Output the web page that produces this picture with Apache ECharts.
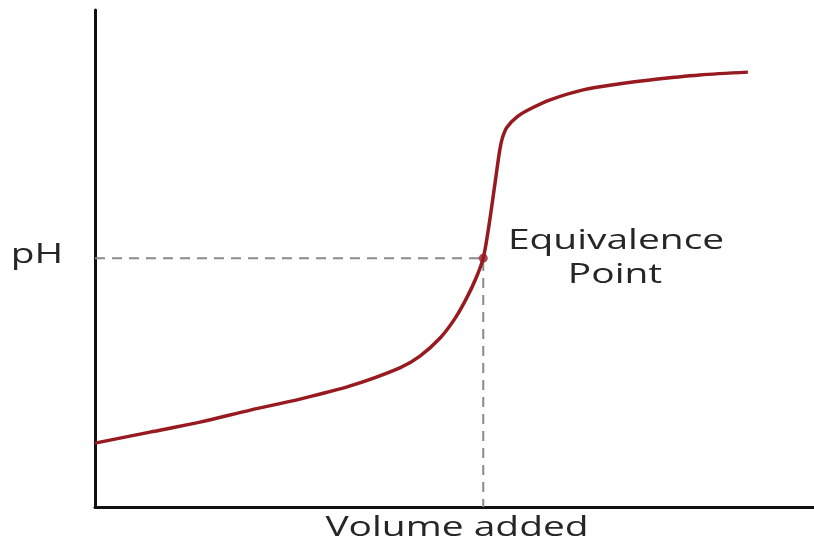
<!DOCTYPE html>
<html><head><meta charset="utf-8">
<script src="https://cdn.jsdelivr.net/npm/echarts@6/dist/echarts.min.js"></script>
<style>html,body{margin:0;padding:0;background:#fff}#c{width:814px;height:544px}</style>
</head><body><div id="c"></div>
<script>
const volume = [0, 7.65, 14.6, 21.6, 28.5, 35.5, 42.4, 45.2, 48.0, 50.1, 51.7, 53.0, 54.0, 54.8, 55.6, 56.3, 56.7, 57.3, 58.7, 60.5, 63.3, 67.9, 73.0, 77.2, 84.1, 90.8];
const pH =     [1.80, 2.11, 2.39, 2.73, 3.04, 3.41, 3.92, 4.25, 4.76, 5.32, 5.89, 6.45, 7.01, 7.94, 9.07, 10.06, 10.42, 10.70, 10.99, 11.21, 11.47, 11.75, 11.92, 12.03, 12.17, 12.25];
const equivVolume = 54.0;
const equivPH = 7.01;
const guideX = [0, equivVolume, equivVolume];
const guideY = [equivPH, equivPH, 0];
const xTitle = 'Volume added';
const yTitle = 'pH';
const equivLabel = ['Equivalence', 'Point'];

const chart = echarts.init(document.getElementById('c'));
const font = '28px "Open Sans", "Noto Sans", sans-serif';
function txt(text, x, y) {
  return {
    type: 'text', x: x, y: y, scaleX: 1.39, scaleY: 1, z: 10,
    style: {text: text, x: 0, y: 0, font: font, fill: '#262626', align: 'center', verticalAlign: 'middle'}
  };
}
chart.setOption({
  animation: false,
  grid: {left: 95, right: 0, top: 10, bottom: 37},
  xAxis: {
    type: 'value', min: 0, max: 100,
    axisLine: {show: true, lineStyle: {color: '#111', width: 3}},
    axisTick: {show: false}, axisLabel: {show: false}, splitLine: {show: false}
  },
  yAxis: {
    type: 'value', min: 0, max: 14,
    axisLine: {show: true, lineStyle: {color: '#111', width: 3}},
    axisTick: {show: false}, axisLabel: {show: false}, splitLine: {show: false}
  },
  graphic: [
    txt(yTitle, 37, 255),
    txt(equivLabel[0], 616, 241),
    txt(equivLabel[1], 615, 275),
    txt(xTitle, 457, 528)
  ],
  series: [
    {
      type: 'line', data: guideX.map((v, i) => [v, guideY[i]]),
      symbol: 'none', lineStyle: {color: '#8a8a8a', width: 2, type: [10, 7]}, z: 1
    },
    {
      type: 'line', data: volume.map((v, i) => [v, pH[i]]),
      smooth: 0.3, symbol: 'none', lineStyle: {color: '#961a1f', width: 3.5}, z: 2
    },
    {
      type: 'scatter', data: [[equivVolume, equivPH]], symbolSize: 9,
      itemStyle: {color: '#961a1f'}, z: 3
    }
  ]
});
</script></body></html>
